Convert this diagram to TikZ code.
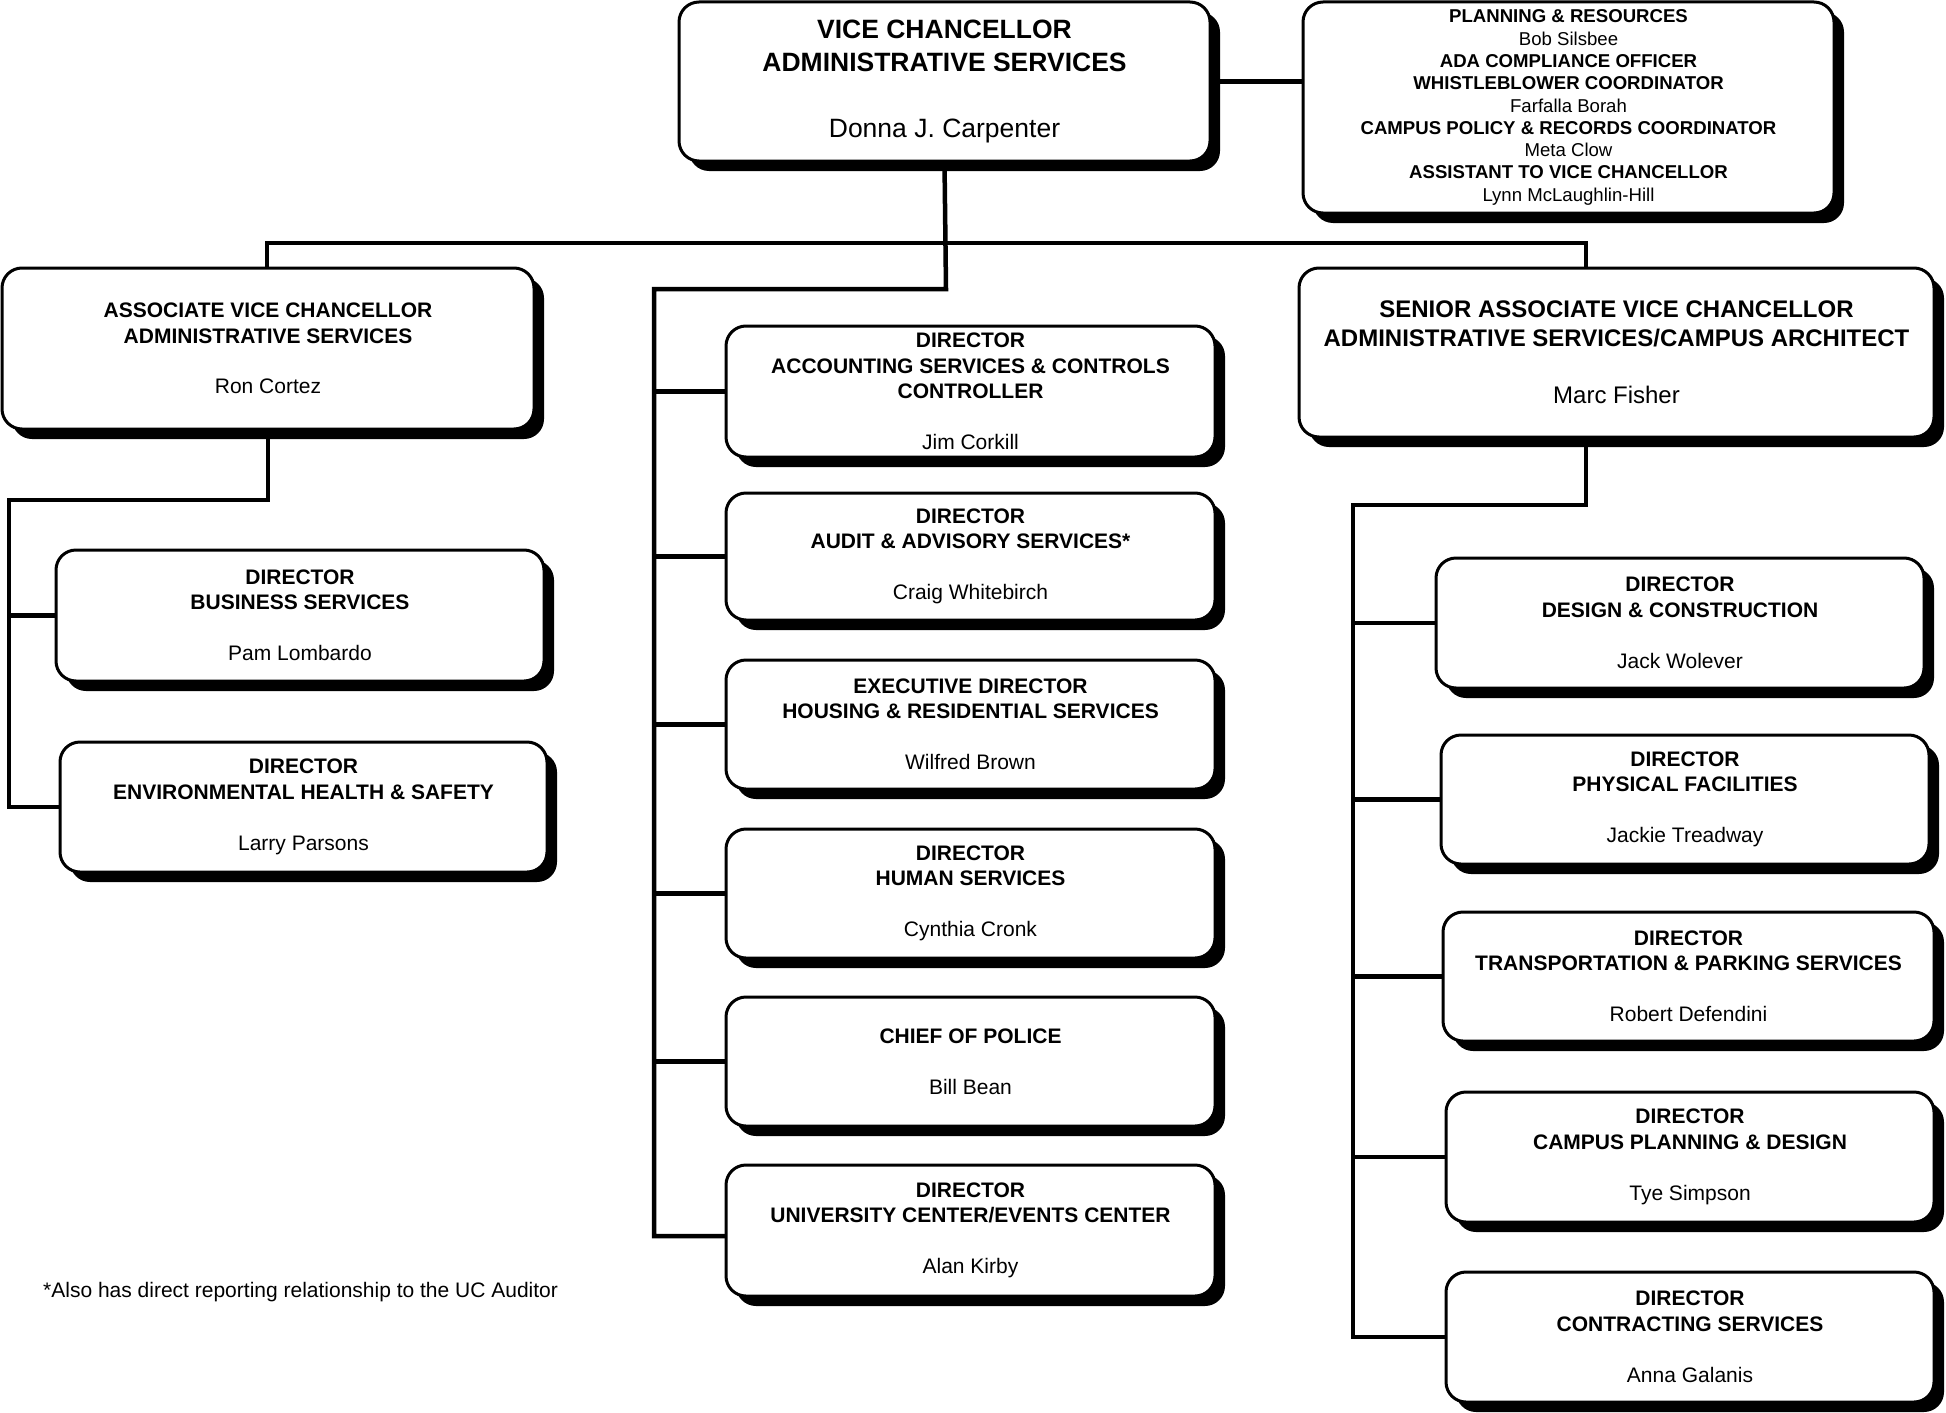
\documentclass[tikz,border=0pt]{standalone}
\usepackage{fontspec}
\setmainfont{Liberation Sans}
\usetikzlibrary{shadows}
\newcommand{\fsz}[2]{\fontsize{#1}{#2}\selectfont}
\tikzset{
  box/.style={draw, line width=3pt, fill=white, rounded corners=20pt, inner sep=0pt, align=center,
    drop shadow={shadow xshift=10pt, shadow yshift=-10pt, fill=black, opacity=1}},
  conn/.style={line width=4.5pt, line cap=rect},
  dirfont/.style={font=\fsz{21}{25.5}},
}
\newcommand{\obox}[7]{\node[box, #7, minimum width={#4pt-#2pt}, minimum height={#5pt-#3pt}] (#1) at ({(#2+#4)/2},{(#3+#5)/2}) {#6};}
\begin{document}
\begin{tikzpicture}[x=1pt,y=-1pt]
\useasboundingbox (0,0) rectangle (1946,1413);
% junction coordinates
\coordinate (tl) at (267,243);
\coordinate (tr) at (1586,243);
\coordinate (cm) at (946,289);
\coordinate (cl) at (654,289);
\coordinate (cb) at (654,1236);
\coordinate (lj) at (9,500);
\coordinate (rj) at (1353,505);
% boxes
\obox{vc}{679}{2}{1210}{161}{\textbf{VICE CHANCELLOR}\\\textbf{ADMINISTRATIVE SERVICES}\\[33pt]Donna J. Carpenter}{font=\fsz{26.5}{33}}
\obox{pr}{1303}{2}{1834}{213}{\textbf{PLANNING \& RESOURCES}\\Bob Silsbee\\\textbf{ADA COMPLIANCE OFFICER}\\\textbf{WHISTLEBLOWER COORDINATOR}\\Farfalla Borah\\\textbf{CAMPUS POLICY \& RECORDS COORDINATOR}\\Meta Clow\\\textbf{ASSISTANT TO VICE CHANCELLOR}\\Lynn McLaughlin-Hill}{font=\fsz{18.6}{22.3}}
\obox{avc}{2}{268}{534}{429}{\textbf{ASSOCIATE VICE CHANCELLOR}\\\textbf{ADMINISTRATIVE SERVICES}\\[25pt]Ron Cortez}{dirfont}
\obox{savc}{1299}{268}{1934}{437}{\textbf{SENIOR ASSOCIATE VICE CHANCELLOR}\\\textbf{ADMINISTRATIVE SERVICES/CAMPUS ARCHITECT}\\[29pt]Marc Fisher}{font=\fsz{24}{28.5}}
% left column
\obox{bus}{56}{550}{544}{681}{\textbf{DIRECTOR}\\\textbf{BUSINESS SERVICES}\\[25.5pt]Pam Lombardo}{dirfont}
\obox{ehs}{60}{742}{547}{872}{\textbf{DIRECTOR}\\\textbf{ENVIRONMENTAL HEALTH \& SAFETY}\\[25.5pt]Larry Parsons}{dirfont}
% central column
\obox{acc}{726}{326}{1215}{457}{\textbf{DIRECTOR}\\\textbf{ACCOUNTING SERVICES \& CONTROLS}\\\textbf{CONTROLLER}\\[25.5pt]Jim Corkill}{dirfont}
\obox{aud}{726}{493}{1215}{620}{\textbf{DIRECTOR}\\\textbf{AUDIT \& ADVISORY SERVICES*}\\[25.5pt]Craig Whitebirch}{dirfont}
\obox{hou}{726}{660}{1215}{789}{\textbf{EXECUTIVE DIRECTOR}\\\textbf{HOUSING \& RESIDENTIAL SERVICES}\\[25.5pt]Wilfred Brown}{dirfont}
\obox{hum}{726}{829}{1215}{958}{\textbf{DIRECTOR}\\\textbf{HUMAN SERVICES}\\[25.5pt]Cynthia Cronk}{dirfont}
\obox{pol}{726}{997}{1215}{1126}{\textbf{CHIEF OF POLICE}\\[25.5pt]Bill Bean}{dirfont}
\obox{uc}{726}{1165}{1215}{1296}{\textbf{DIRECTOR}\\\textbf{UNIVERSITY CENTER/EVENTS CENTER}\\[25.5pt]Alan Kirby}{dirfont}
% right column
\obox{dc}{1436}{558}{1924}{688}{\textbf{DIRECTOR}\\\textbf{DESIGN \& CONSTRUCTION}\\[25.5pt]Jack Wolever}{dirfont}
\obox{pf}{1441}{735}{1929}{864}{\textbf{DIRECTOR}\\\textbf{PHYSICAL FACILITIES}\\[25.5pt]Jackie Treadway}{dirfont}
\obox{tps}{1443}{912}{1934}{1041}{\textbf{DIRECTOR}\\\textbf{TRANSPORTATION \& PARKING SERVICES}\\[25.5pt]Robert Defendini}{dirfont}
\obox{cpd}{1446}{1092}{1934}{1222}{\textbf{DIRECTOR}\\\textbf{CAMPUS PLANNING \& DESIGN}\\[25.5pt]Tye Simpson}{dirfont}
\obox{con}{1446}{1272}{1934}{1402}{\textbf{DIRECTOR}\\\textbf{CONTRACTING SERVICES}\\[25.5pt]Anna Galanis}{dirfont}
% footnote
\node[anchor=west, inner sep=0pt, font=\fsz{21}{25}] (note) at (43,1292) {*Also has direct reporting relationship to the UC Auditor};
% connectors
\draw[conn] (vc.east) -- (vc.east -| pr.west);
\draw[conn] (vc.south) -- (cm) -- (cl) -- (cb) -- (cb -| uc.west);
\draw[conn] (tl |- avc.north) -- (tl) -- (tr) -- (tr |- savc.north);
\foreach \n in {acc,aud,hou,hum,pol}{\draw[conn] (\n.west) -- (\n.west -| cl);}
\draw[conn] (avc.south) |- (lj) |- (ehs.west);
\draw[conn] (bus.west) -- (bus.west -| lj);
\draw[conn] (tr |- savc.south) |- (rj) |- (con.west);
\foreach \n in {dc,pf,tps,cpd}{\draw[conn] (\n.west) -- (\n.west -| rj);}
\end{tikzpicture}
\end{document}
